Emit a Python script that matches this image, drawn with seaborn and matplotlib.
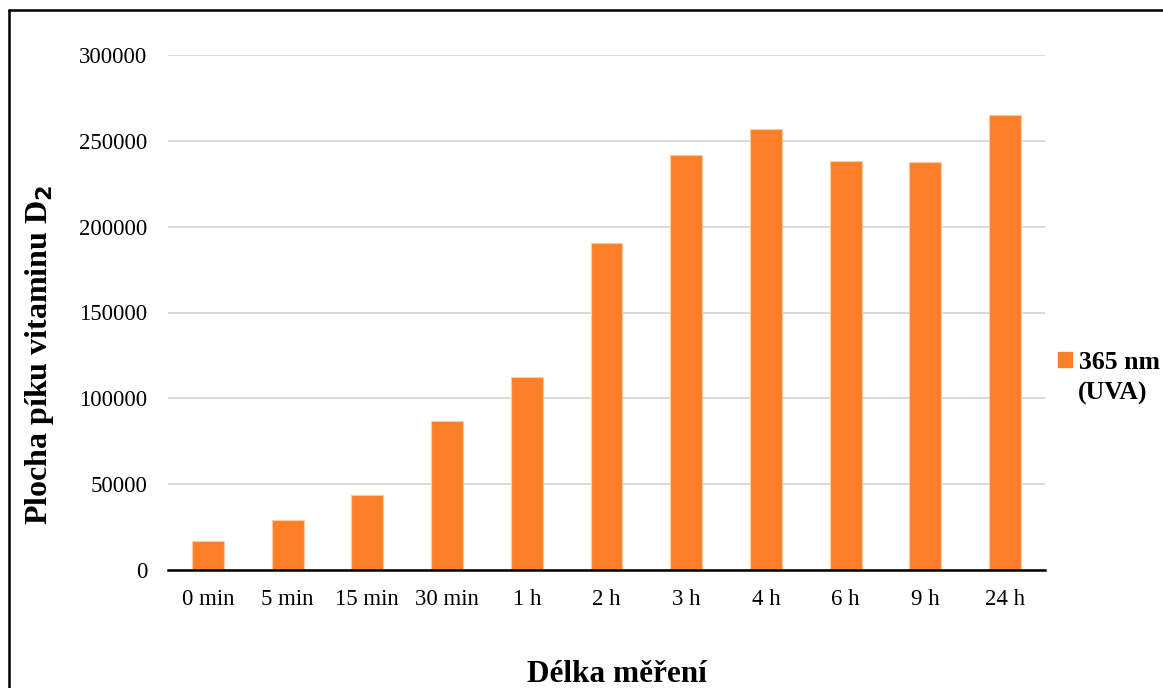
import matplotlib
matplotlib.use("Agg")
import matplotlib.pyplot as plt
import seaborn as sns
import pandas as pd
from matplotlib.lines import Line2D

# Data
categories = ["0 min", "5 min", "15 min", "30 min", "1 h", "2 h", "3 h", "4 h", "6 h", "9 h", "24 h"]
peak_area = [17000, 29000, 43500, 87000, 112500, 190500, 241500, 257000, 238500, 237500, 265000]
series_name = "365 nm"
series_note = "(UVA)"

df = pd.DataFrame({"cas": categories, "plocha": peak_area, "serie": series_name})

sns.set_theme(style="white")
plt.rcParams['font.family'] = ['Liberation Serif', 'DejaVu Serif']
plt.rcParams['text.color'] = 'black'
plt.rcParams['axes.labelcolor'] = 'black'

bar_color = "#FD7F27"

fig = plt.figure(figsize=(11.63, 6.88), dpi=100)
ax = fig.add_axes([168 / 1163, 1 - 570 / 688, (1045 - 168) / 1163, (570 - 55) / 688])

sns.barplot(data=df, x="cas", y="plocha", hue="serie", palette=[bar_color],
            width=0.4, ax=ax, legend=False, saturation=1)
for p in ax.patches:
    p.set_edgecolor("#FDC9A3")
    p.set_linewidth(0.8)

ax.set_ylim(0, 300000)
ax.set_yticks(range(0, 300001, 50000))
ax.set_xlim(-0.5, len(categories) - 0.5)
ax.yaxis.grid(True, color="#D9D9D9", linewidth=1.4)
ax.set_axisbelow(True)
for s in ["top", "right", "left"]:
    ax.spines[s].set_visible(False)
ax.spines["bottom"].set_color("black")
ax.spines["bottom"].set_linewidth(1.8)
ax.tick_params(axis="both", length=0, labelsize=16.5, colors="black")
ax.tick_params(axis="y", pad=15)
ax.tick_params(axis="x", pad=14)

ax.set_xlabel("Délka měření", fontsize=22.5, fontweight="bold", va="top")
ax.xaxis.set_label_coords((617 - 168) / 877, (570 - 660) / 515)
ax.set_ylabel("Plocha píku vitaminu D$_\\mathbf{2}$", fontsize=23, fontweight="bold", va="center")
ax.yaxis.set_label_coords((40 - 168) / 877, (570 - 355) / 515)

handle = plt.Rectangle((0, 0), 1, 1, color=bar_color)
fig.legend([handle], [series_name], loc="center left", bbox_to_anchor=(1058 / 1163, 1 - 362 / 688),
           frameon=False, prop={"weight": "bold", "size": 18.5}, handlelength=0.55, handleheight=0.55,
           handletextpad=0.25, borderaxespad=0, borderpad=0)
fig.text(1078 / 1163, 1 - 393 / 688, series_note, fontsize=18.5, fontweight="bold",
         ha="left", va="center")

# outer frame (left and top only visible)
fig.add_artist(Line2D([9 / 1163, 9 / 1163], [0, 1 - 10 / 688], transform=fig.transFigure,
                      color="black", linewidth=1.8))
fig.add_artist(Line2D([9 / 1163, 1], [1 - 10 / 688, 1 - 10 / 688], transform=fig.transFigure,
                      color="black", linewidth=1.8))

fig.savefig("out.png", dpi=100)
